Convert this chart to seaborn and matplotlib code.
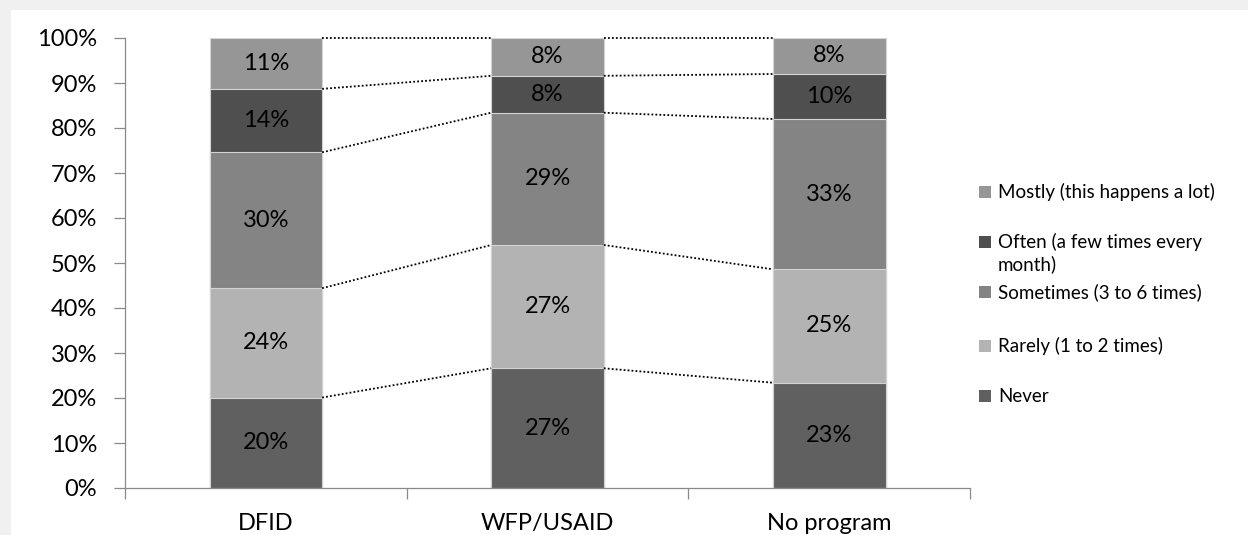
import matplotlib
matplotlib.use("Agg")
import matplotlib.pyplot as plt
import seaborn as sns
import pandas as pd
import numpy as np
from matplotlib.patches import Rectangle

# ---- data ----
programs = ["DFID", "WFP/USAID", "No program"]
series = ["Never", "Rarely (1 to 2 times)", "Sometimes (3 to 6 times)",
          "Often (a few times every month)", "Mostly (this happens a lot)"]
legend_lines = [["Never"], ["Rarely (1 to 2 times)"], ["Sometimes (3 to 6 times)"],
                ["Often (a few times every", "month)"], ["Mostly (this happens a lot)"]]
never = [20.1, 26.6, 23.4]
rarely = [24.3, 27.4, 25.2]
sometimes = [30.2, 29.4, 33.4]
often = [14.1, 8.2, 10.0]
mostly = [11.3, 8.4, 8.0]
yticks = [0, 10, 20, 30, 40, 50, 60, 70, 80, 90, 100]
colors = ["#606060", "#b3b3b3", "#848484", "#4f4f4f", "#969696"]

W, H = 1248, 535
sns.set_theme(style="white")
plt.rcParams['font.family'] = ['Lato', 'DejaVu Sans']

fig = plt.figure(figsize=(W / 100, H / 100), dpi=100, facecolor="#f0f0f0")
panel = Rectangle((11 / W, 0), 1 - 11 / W, 525 / H, transform=fig.transFigure,
                  facecolor="white", edgecolor="none", zorder=-10)
fig.add_artist(panel)
ax = fig.add_axes([125 / W, 47 / H, 845 / W, 450 / H])
ax.set_facecolor("white")

vals = np.array([never, rarely, sometimes, often, mostly])
cum = vals.cumsum(axis=0)

# stacked bars by overdrawing cumulative totals (top layer first)
for k in reversed(range(len(series))):
    sub = pd.DataFrame({"program": programs, "top": cum[k]})
    sns.barplot(data=sub, x="program", y="top", color=colors[k], width=0.4,
                errorbar=None, saturation=1, edgecolor="#d4d4d4", linewidth=0.8, ax=ax)

# data labels
for k in range(len(series)):
    for i in range(len(programs)):
        ax.text(i, cum[k][i] - vals[k][i] / 2, f"{vals[k][i]:.0f}%", ha="center", va="center",
                fontsize=17, color="black", zorder=5)

# series lines
for i in range(len(programs) - 1):
    for k in range(len(series)):
        ax.plot([i + 0.2, i + 0.8], [cum[k][i], cum[k][i + 1]], linestyle=(0, (1, 1.2)),
                color="black", linewidth=1.3, clip_on=False, zorder=4)

ax.set_xlim(-0.5, len(programs) - 0.5)
ax.set_ylim(0, 100)
ax.set_yticks(yticks)
ax.set_yticklabels([f"{t}%" for t in yticks])
ax.set_xlabel("")
ax.set_ylabel("")

spine_c = "#898989"
for s in ["top", "right"]:
    ax.spines[s].set_visible(False)
for s in ["left", "bottom"]:
    ax.spines[s].set_color(spine_c)
    ax.spines[s].set_linewidth(0.9)

ax.tick_params(axis="y", which="major", left=True, length=8, width=0.9, color=spine_c,
               pad=12, labelsize=17, labelcolor="black", direction="out")
ax.set_xticks(np.arange(-0.5, len(programs), 1.0), minor=True)
ax.tick_params(axis="x", which="minor", bottom=True, length=8, width=0.9, color=spine_c,
               direction="out")
ax.tick_params(axis="x", which="major", bottom=False, length=0, pad=18, labelsize=17,
               labelcolor="black")

# legend (reversed order, as in the reference)
leg_y = {4: [192], 3: [242, 264], 2: [292], 1: [346], 0: [396]}
for k in range(len(series)):
    ys = leg_y[k]
    fig.add_artist(Rectangle((979 / W, 1 - (ys[0] + 6) / H), 12 / W, 12 / H,
                             transform=fig.transFigure, facecolor=colors[k],
                             edgecolor="none", zorder=3))
    for line, y in zip(legend_lines[k], ys):
        fig.text(998 / W, 1 - y / H, line, ha="left", va="center", fontsize=13.5, color="black")

fig.savefig("out.png", dpi=100, facecolor=fig.get_facecolor())
